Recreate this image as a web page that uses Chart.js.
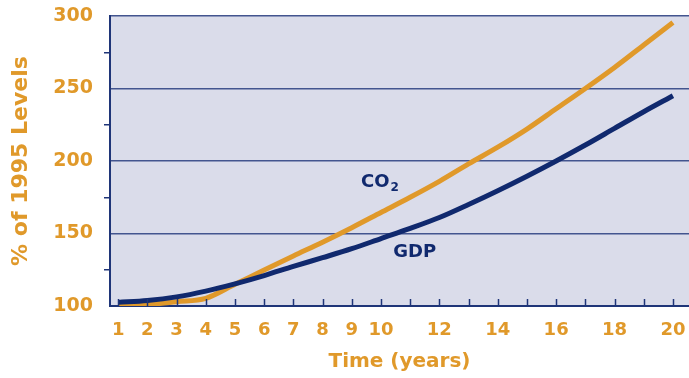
<!DOCTYPE html>
<html>
<head>
<meta charset="utf-8">
<script src="https://cdn.jsdelivr.net/npm/chart.js@4/dist/chart.umd.min.js"></script>
<style>
  html, body { margin: 0; padding: 0; background: #ffffff; }
  #wrap { width: 689px; height: 378px; }
</style>
</head>
<body>
<div id="wrap"><canvas id="chart" width="689" height="378"></canvas></div>
<script>
// Years after 1995 and both series as % of 1995 levels
const years = [1, 2, 3, 4, 5, 6, 7, 8, 9, 10, 11, 12, 13, 14, 15, 16, 17, 18, 19, 20];
const co2 = [100.5, 101, 103, 105.3, 115, 124.8, 134.5, 144, 154, 164.5, 175, 186, 198, 209.5, 222, 236, 250, 264.5, 280, 295.5];
const gdp = [102.5, 103.8, 106.3, 110.3, 115.3, 121, 127.3, 133.3, 139.5, 146.5, 153.5, 161, 170, 179.5, 189.5, 200, 211, 222.5, 234, 245];

// Axis ticks
const xTickValues = [1, 2, 3, 4, 5, 6, 7, 8, 9, 10, 11, 12, 13, 14, 15, 16, 17, 18, 19, 20];
const xTickLabels = [1, 2, 3, 4, 5, 6, 7, 8, 9, 10, 12, 14, 16, 18, 20];
const yLabelValues = [100, 150, 200, 250, 300];

// In-plot series labels: [x, y] in data units
const co2LabelAt = [9.32, 182.3];
const gdpLabelAt = [10.42, 134];

const ORANGE = '#e0992a';
const NAVY = '#10296e';
const AXIS = '#1f3578';
const GRID = '#43558f';
const FONT = '"DejaVu Sans", sans-serif';

const plotBackground = {
  id: 'plotBackground',
  beforeDraw(chart) {
    const { ctx, chartArea: a } = chart;
    ctx.save();
    ctx.fillStyle = '#dadcea';
    ctx.fillRect(a.left, a.top, a.right - a.left, a.bottom - a.top);
    ctx.restore();
  }
};

// Short tick marks pointing up into the plot from the time axis
const innerTicks = {
  id: 'innerTicks',
  afterDraw(chart) {
    const { ctx, chartArea: a } = chart;
    const xs = chart.scales.x;
    ctx.save();
    ctx.strokeStyle = AXIS;
    ctx.lineWidth = 1.5;
    xTickValues.forEach(v => {
      const px = Math.round(xs.getPixelForValue(v)) + 0.5;
      ctx.beginPath();
      ctx.moveTo(px, a.bottom);
      ctx.lineTo(px, a.bottom - 7);
      ctx.stroke();
    });
    ctx.restore();
  }
};

const seriesLabels = {
  id: 'seriesLabels',
  afterDatasetsDraw(chart) {
    const { ctx } = chart;
    const xs = chart.scales.x, ys = chart.scales.y;
    ctx.save();
    ctx.fillStyle = NAVY;
    ctx.textAlign = 'left';
    ctx.textBaseline = 'alphabetic';
    ctx.font = 'bold 18px ' + FONT;
    const x = xs.getPixelForValue(co2LabelAt[0]);
    const y = ys.getPixelForValue(co2LabelAt[1]);
    ctx.fillText('CO', x, y);
    const w = ctx.measureText('CO').width;
    ctx.font = 'bold 12px ' + FONT;
    ctx.fillText('2', x + w + 1, y + 4);
    ctx.font = 'bold 18px ' + FONT;
    ctx.fillText('GDP', xs.getPixelForValue(gdpLabelAt[0]), ys.getPixelForValue(gdpLabelAt[1]));
    ctx.restore();
  }
};

new Chart(document.getElementById('chart'), {
  type: 'line',
  data: {
    datasets: [
      {
        label: 'GDP',
        data: years.map((t, i) => ({ x: t, y: gdp[i] })),
        borderColor: NAVY,
        borderWidth: 5,
        pointRadius: 0,
        cubicInterpolationMode: 'monotone',
        borderCapStyle: 'butt'
      },
      {
        label: 'CO2',
        data: years.map((t, i) => ({ x: t, y: co2[i] })),
        borderColor: ORANGE,
        borderWidth: 5,
        pointRadius: 0,
        cubicInterpolationMode: 'monotone',
        borderCapStyle: 'butt'
      }
    ]
  },
  options: {
    responsive: false,
    animation: false,
    events: [],
    layout: { padding: { top: 16, right: 0, left: 0, bottom: 0 } },
    plugins: {
      legend: { display: false },
      tooltip: { enabled: false }
    },
    scales: {
      x: {
        type: 'linear',
        min: 0.72,
        max: 20.55,
        afterBuildTicks(scale) {
          scale.ticks = xTickValues.map(v => ({ value: v }));
        },
        afterFit(scale) {
          scale.height = 72;
          scale.paddingLeft = 0;
          scale.paddingRight = 0;
        },
        grid: { display: true, drawOnChartArea: false, drawTicks: false },
        border: { display: true, color: AXIS, width: 2 },
        ticks: {
          autoSkip: false,
          maxRotation: 0,
          padding: 14,
          color: ORANGE,
          font: { family: FONT, size: 18, weight: 'bold' },
          callback: v => (xTickLabels.includes(v) ? String(v) : '')
        },
        title: {
          display: true,
          text: 'Time (years)',
          color: ORANGE,
          font: { family: FONT, size: 20, weight: 'bold' },
          padding: { top: 0, bottom: 4 }
        }
      },
      y: {
        min: 100,
        max: 300,
        afterFit(scale) {
          scale.width = 110;
          scale.paddingTop = 0;
          scale.paddingBottom = 0;
        },
        grid: {
          display: true,
          drawTicks: true,
          tickLength: 6,
          lineWidth: 1.5,
          tickWidth: 1.5,
          color: c => (c.tick && c.tick.value % 50 === 0 && c.tick.value !== 100 ? GRID : 'rgba(0,0,0,0)'),
          tickColor: c => (c.tick && c.tick.value % 50 !== 0 ? AXIS : 'rgba(0,0,0,0)')
        },
        border: { display: true, color: AXIS, width: 2 },
        ticks: {
          stepSize: 25,
          padding: 11,
          color: ORANGE,
          font: { family: FONT, size: 19, weight: 'bold' },
          callback: v => (yLabelValues.includes(v) ? String(v) : '')
        },
        title: {
          display: true,
          text: '% of 1995 Levels',
          color: ORANGE,
          font: { family: FONT, size: 22, weight: 'bold' },
          padding: { top: 8, bottom: 0 }
        }
      }
    }
  },
  plugins: [plotBackground, innerTicks, seriesLabels]
});
</script>
</body>
</html>
